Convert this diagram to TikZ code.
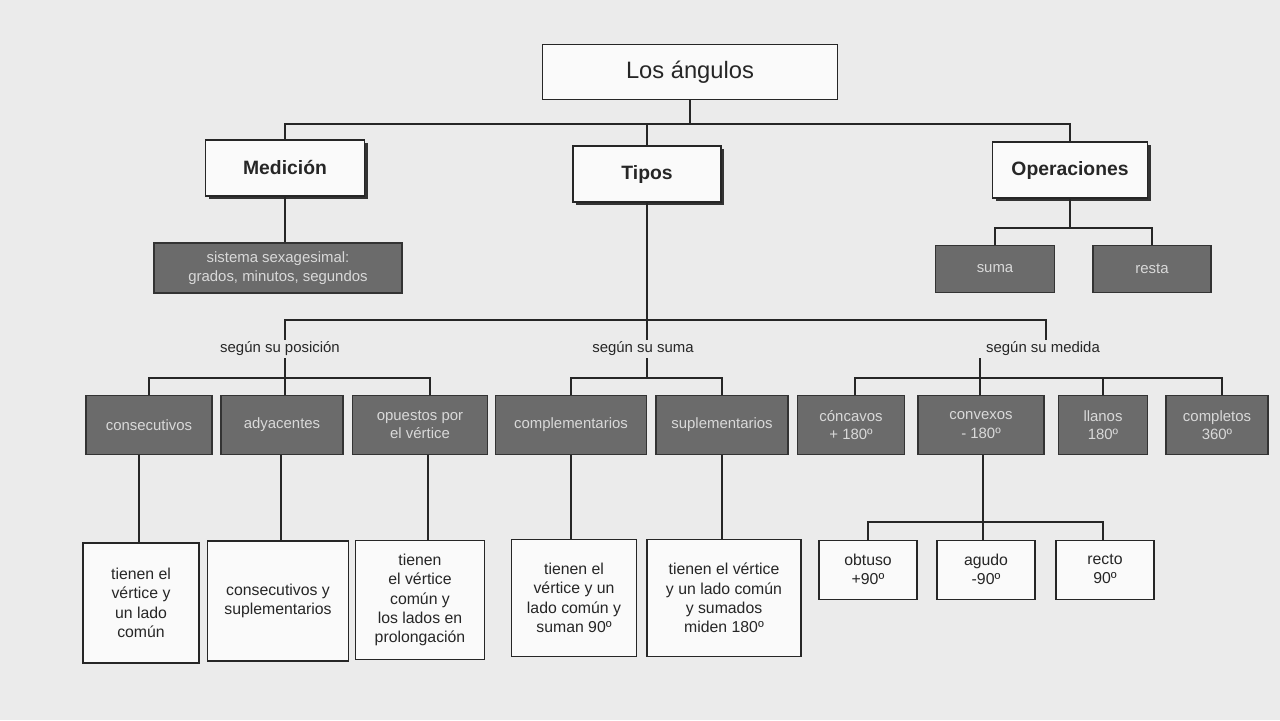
\documentclass[tikz,border=0pt]{standalone}
\usepackage{fontspec}
\setmainfont{Liberation Sans}
\begin{document}
\begin{tikzpicture}[x=0.02cm,y=-0.02cm,
  wb/.style={draw=black!85,fill=white!96!gray,line width=0.8pt,inner sep=0pt,align=center,font=\fontsize{9}{11}\selectfont,text=black!85},
  db/.style={draw=black!80,fill=black!58,line width=0.8pt,inner sep=0pt,align=center,font=\fontsize{8.5}{10.5}\selectfont,text=black!15},
  ln/.style={draw=black!85,line width=0.7pt},
  lab/.style={font=\fontsize{8.5}{10}\selectfont,text=black!85,inner sep=1pt}]
\fill[black!8] (0,0) rectangle (1280,720);
\useasboundingbox (0,0) rectangle (1280,720);
% top
\node[wb,minimum width=5.9cm,minimum height=1.1cm,font=\fontsize{13.5}{15}\selectfont] (root) at (690,72) {Los ángulos};
\foreach \n/\x/\y/\w/\t in {med/285/168/159/Medición,tip/647/174/148/Tipos,ope/1070/170/155/Operaciones}{
  \fill[black!80] (\x-\w/2+3,\y-25) rectangle (\x+\w/2+3,\y+31);
  \node[wb,minimum width=\w*0.02cm,minimum height=1.12cm,font=\fontsize{11}{13}\selectfont\bfseries] (\n) at (\x,\y) {\t};}
\node[db,minimum width=4.96cm,minimum height=1cm] (sis) at (278,268) {sistema sexagesimal:\\grados, minutos, segundos};
\node[db,minimum width=2.38cm,minimum height=0.94cm] (suma) at (995,269) {suma};
\node[db,minimum width=2.36cm,minimum height=0.94cm] (resta) at (1152,269) {resta};
\draw[ln] (root.south) -- (root.south |- 0,124);
\draw[ln] (med.north) -- (285,124) -- (1070,124) -- (ope.north);
\draw[ln] (647,124) -- (tip.north);
\draw[ln] (med.south) -- (sis.north -| med.south);
\draw[ln] (ope.south) -- (1070,228) -- (995,228) -- (suma.north);
\draw[ln] (1070,228) -- (1152,228) -- (resta.north);
% labels
\node[lab] (lp) at (280,349) {según su posición};
\node[lab] (ls) at (643,349) {según su suma};
\node[lab] (lm) at (1043,349) {según su medida};
\draw[ln] (tip.south) -- (647,320);
\draw[ln] (lp.north -| 285,0) -- (285,320) -- (1046,320) -- (lm.north -| 1046,0);
\draw[ln] (647,320) -- (ls.north -| 647,0);
% dark row
\foreach \n/\x/\w/\t in {cons/149/126/consecutivos,ady/282/122/adyacentes,opu/420/135/{opuestos por\\el vértice},com/571/151/complementarios,sup/722/132/suplementarios,con/851/107/{cóncavos\\+ 180º},conv/981/126/{convexos\\- 180º},lla/1103/89/{llanos\\180º},cmp/1217/102/{completos\\360º}}{
  \node[db,minimum width=\w*0.02cm,minimum height=1.18cm] (\n) at (\x,425) {\t};}
\draw[ln] (lp.south -| 285,0) -- (285,378);
\draw[ln] (cons.north) -- (149,378) -- (430,378) -- (opu.north -| 430,0);
\draw[ln] (285,378) -- (ady.north -| 285,0);
\draw[ln] (ls.south -| 647,0) -- (647,378);
\draw[ln] (com.north) -- (571,378) -- (722,378) -- (sup.north);
\draw[ln] (lm.south -| 980,0) -- (980,378);
\draw[ln] (con.north -| 855,0) -- (855,378) -- (1222,378) -- (cmp.north -| 1222,0);
\draw[ln] (980,378) -- (conv.north -| 980,0);
\draw[ln] (1103,378) -- (lla.north);
% lower white
\foreach \n/\x/\y/\w/\h/\t in {w1/141/603/116/120/{tienen el\\vértice y\\un lado\\común},w2/278/601/141/120/{consecutivos y\\suplementarios},w3/420/600/129/119/{tienen\\el vértice\\común y\\los lados en\\prolongación},w4/574/598/125/117/{tienen el\\vértice y un\\lado común y\\suman 90º},w5/724/598/154/117/{tienen el vértice\\y un lado común\\y sumados\\miden 180º}}{
  \node[wb,minimum width=\w*0.02cm,minimum height=\h*0.02cm] (\n) at (\x,\y) {\t};}
\draw[ln] (cons.south -| 139,0) -- (w1.north -| 139,0);
\draw[ln] (ady.south -| 281,0) -- (w2.north -| 281,0);
\draw[ln] (opu.south -| 428,0) -- (w3.north -| 428,0);
\draw[ln] (com.south -| 571,0) -- (w4.north -| 571,0);
\draw[ln] (sup.south -| 722,0) -- (w5.north -| 722,0);
\foreach \n/\x/\t in {obt/868/{obtuso\\+90º},agu/986/{agudo\\-90º},rec/1105/{recto\\90º}}{
  \node[wb,minimum width=1.96cm,minimum height=1.18cm] (\n) at (\x,570) {};
  \node[lab,align=center,font=\fontsize{9}{11}\selectfont,anchor=north] at (\x,552) {\t};}
\draw[ln] (conv.south -| 983,0) -- (983,540);
\draw[ln] (obt.north) -- (868,522) -- (1103,522) -- (rec.north -| 1103,0);
\end{tikzpicture}
\end{document}
